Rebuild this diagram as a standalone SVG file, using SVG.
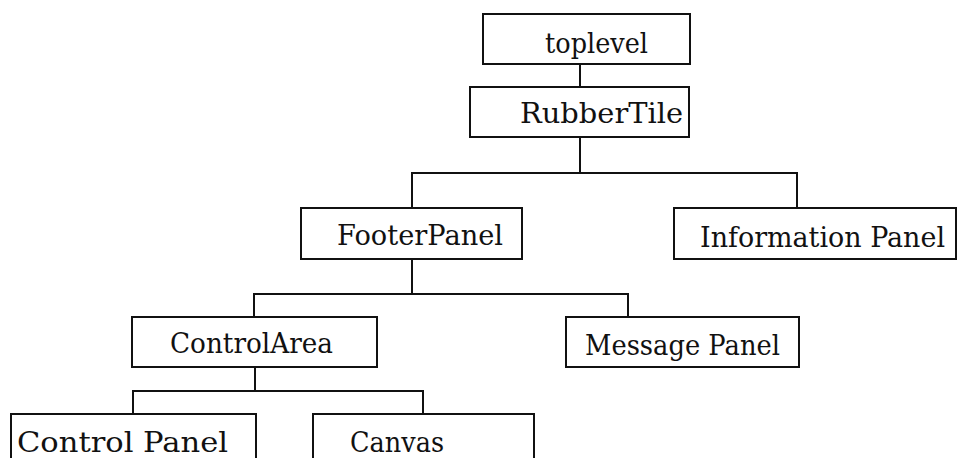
<svg xmlns="http://www.w3.org/2000/svg" width="958" height="458" viewBox="0 0 958 458">
<style>
.box{fill:#fff;stroke:#111;stroke-width:2}
.lbl{font-family:"DejaVu Serif","Liberation Serif",serif;font-size:28px;fill:#111}
.conn{fill:none;stroke:#111;stroke-width:2}
</style>
<rect width="958" height="458" fill="#fff"/>
<g id="connectors" class="conn">
<path d="M580,64V87"/>
<path d="M580,137V173M412,208V173H797V208"/>
<path d="M412,259V294M254,317V294H628V317"/>
<path d="M255,367V391M133,414V391H423V414"/>
</g>
<g id="toplevel"><rect class="box" x="483" y="14" width="207" height="50"/><text class="lbl" x="545" y="53" textLength="103" lengthAdjust="spacingAndGlyphs">toplevel</text></g>
<g id="rubbertile"><rect class="box" x="470" y="87" width="219" height="50"/><text class="lbl" x="520" y="123" textLength="163" lengthAdjust="spacingAndGlyphs">RubberTile</text></g>
<g id="footerpanel"><rect class="box" x="301" y="208" width="221" height="51"/><text class="lbl" x="337" y="245" textLength="166" lengthAdjust="spacingAndGlyphs">FooterPanel</text></g>
<g id="informationpanel"><rect class="box" x="674" y="208" width="282" height="51"/><text class="lbl" x="700" y="247" textLength="245" lengthAdjust="spacingAndGlyphs">Information Panel</text></g>
<g id="controlarea"><rect class="box" x="132" y="317" width="245" height="50"/><text class="lbl" x="170" y="353" textLength="163" lengthAdjust="spacingAndGlyphs">ControlArea</text></g>
<g id="messagepanel"><rect class="box" x="566" y="317" width="233" height="50"/><text class="lbl" x="585" y="355" textLength="195" lengthAdjust="spacingAndGlyphs">Message Panel</text></g>
<g id="controlpanel"><rect class="box" x="11" y="414" width="245" height="60"/><text class="lbl" x="17" y="452" textLength="211" lengthAdjust="spacingAndGlyphs">Control Panel</text></g>
<g id="canvas"><rect class="box" x="313" y="414" width="221" height="60"/><text class="lbl" x="350" y="452" textLength="94" lengthAdjust="spacingAndGlyphs">Canvas</text></g>
</svg>
